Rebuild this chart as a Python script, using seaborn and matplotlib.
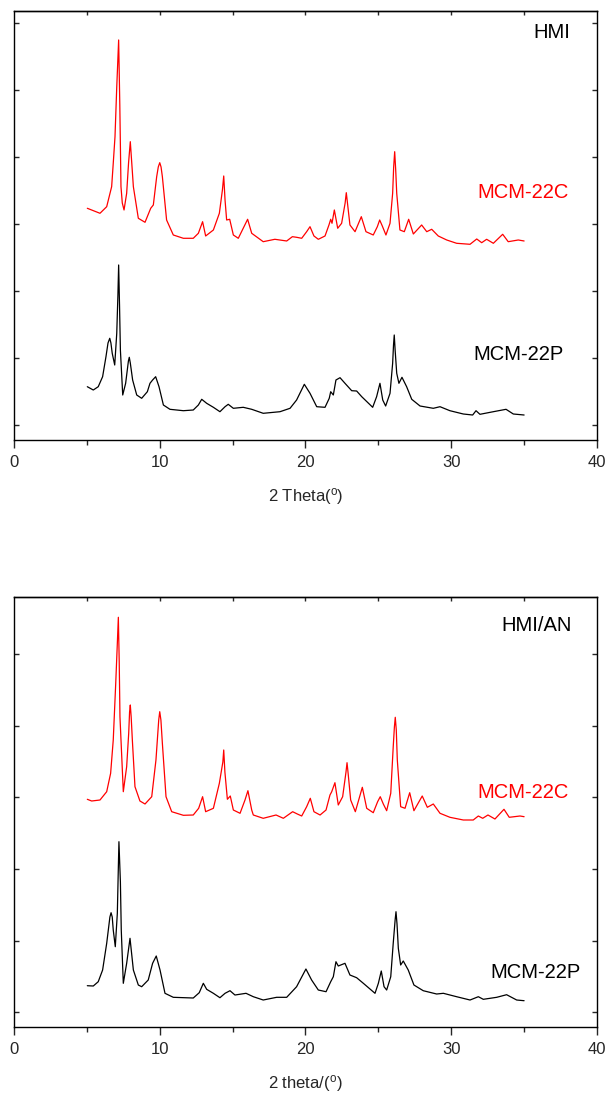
import numpy as np
import pandas as pd
import matplotlib
matplotlib.use("Agg")
import matplotlib.pyplot as plt
import seaborn as sns
from matplotlib.ticker import MultipleLocator, FixedLocator

# ---------------- data (2theta in degrees, intensity in a.u.) -------------
# Panel 1 (HMI) - MCM-22C (red)
theta_hmi_c = [5.03, 5.9, 6.36, 6.70, 6.81, 6.93, 7.05, 7.18, 7.26, 7.34, 7.43, 7.55, 7.73, 7.86, 7.98,
               8.08, 8.19, 8.53, 8.99, 9.38, 9.56, 9.79, 9.9, 10.0, 10.09, 10.18, 10.47, 10.93, 11.62,
               12.3, 12.65, 12.94, 13.15, 13.68, 14.09, 14.3, 14.39, 14.48, 14.59, 14.8, 15.05, 15.39,
               16.03, 16.31, 17.1, 17.9, 18.71, 19.1, 19.39, 19.74, 20.08, 20.31, 20.58, 20.88, 21.34,
               21.61, 21.73, 21.82, 21.98, 22.21, 22.48, 22.72, 22.8, 22.88, 23.05, 23.4, 23.83, 24.15,
               24.65, 24.93, 25.09, 25.27, 25.52, 25.8, 25.98, 26.05, 26.12, 26.19, 26.26, 26.48, 26.78,
               27.08, 27.4, 27.97, 28.32, 28.66, 29.11, 29.69, 30.37, 31.29, 31.75, 32.09, 32.43, 32.89,
               33.53, 33.91, 34.6, 35.0]
int_hmi_c = [216.7, 211.7, 218.3, 238.3, 261.7, 288.3, 338.0, 385.0, 320.0, 238.3, 222.0, 215.0, 231.7,
             262.0, 283.3, 262.0, 238.3, 206.7, 202.7, 216.7, 220.0, 248.3, 258.0, 262.3, 258.0, 248.3,
             205.0, 190.0, 186.7, 186.7, 191.7, 203.3, 189.0, 195.0, 211.7, 235.0, 249.0, 225.0, 205.0,
             205.7, 190.0, 186.7, 205.7, 191.7, 183.3, 185.7, 184.0, 188.3, 187.7, 186.7, 193.3, 198.3,
             189.0, 185.7, 189.0, 200.0, 205.7, 201.7, 215.0, 196.7, 201.7, 222.0, 232.3, 222.0, 200.0,
             193.3, 208.3, 193.3, 190.0, 198.3, 205.0, 199.0, 190.0, 201.7, 231.7, 258.0, 273.3, 255.0,
             231.7, 195.0, 193.3, 205.7, 191.0, 200.0, 193.3, 195.7, 189.0, 185.0, 181.7, 180.7, 186.0,
             182.3, 185.7, 181.7, 190.7, 183.3, 185.0, 184.0]

# Panel 1 (HMI) - MCM-22P (black)
theta_hmi_p = [5.03, 5.44, 5.78, 6.08, 6.31, 6.45, 6.57, 6.65, 6.74, 6.91, 7.05, 7.13, 7.18, 7.24, 7.3,
               7.46, 7.66, 7.85, 7.91, 7.98, 8.14, 8.42, 8.76, 9.15, 9.33, 9.51, 9.72, 9.95, 10.25, 10.7,
               11.62, 12.3, 12.65, 12.88, 13.22, 13.68, 14.13, 14.48, 14.7, 15.05, 15.73, 16.31, 17.1,
               18.25, 18.94, 19.39, 19.92, 20.31, 20.77, 21.34, 21.63, 21.73, 21.91, 22.09, 22.37, 22.71,
               23.17, 23.51, 23.86, 24.61, 24.88, 25.11, 25.3, 25.5, 25.8, 25.98, 26.04, 26.09, 26.15,
               26.26, 26.41, 26.62, 26.94, 27.29, 27.86, 28.77, 29.23, 29.91, 30.83, 31.47, 31.7, 31.97,
               32.89, 33.76, 34.26, 35.0]
int_hmi_p = [38.3, 35.0, 38.3, 48.3, 68.3, 82.0, 86.7, 82.0, 71.7, 60.0, 91.7, 130.0, 160.0, 120.0, 75.0,
             30.0, 41.7, 64.0, 67.7, 62.0, 45.0, 30.0, 26.7, 33.3, 41.7, 45.0, 48.3, 38.3, 20.0, 15.7,
             14.3, 15.0, 20.0, 25.7, 21.7, 17.7, 13.3, 18.3, 20.7, 16.7, 17.7, 15.7, 11.7, 13.3, 16.7,
             25.0, 40.7, 31.7, 18.3, 17.7, 26.7, 33.3, 30.0, 45.0, 47.3, 41.7, 34.3, 34.0, 28.3, 17.7,
             28.3, 41.7, 25.0, 19.0, 31.7, 61.7, 80.0, 90.0, 75.0, 51.7, 41.7, 47.7, 38.3, 25.7, 19.0,
             16.7, 18.3, 14.3, 11.0, 10.0, 14.3, 10.7, 13.3, 15.7, 11.0, 10.0]

# Panel 2 (HMI/AN) - MCM-22C (red)
theta_an_c = [5.03, 5.33, 5.9, 6.36, 6.63, 6.81, 6.98, 7.08, 7.16, 7.22, 7.27, 7.5, 7.73, 7.87, 7.93,
              7.98, 8.04, 8.12, 8.3, 8.64, 8.99, 9.45, 9.74, 9.93, 10.0, 10.08, 10.18, 10.43, 10.82, 11.62,
              12.3, 12.67, 12.94, 13.15, 13.68, 14.09, 14.33, 14.39, 14.47, 14.64, 14.84, 15.05, 15.51,
              15.85, 16.05, 16.31, 16.42, 17.1, 17.98, 18.48, 19.12, 19.44, 19.74, 20.08, 20.33, 20.58,
              21.0, 21.41, 21.68, 21.8, 22.02, 22.25, 22.55, 22.78, 22.85, 22.93, 23.1, 23.42, 23.9, 24.2,
              24.65, 24.95, 25.13, 25.34, 25.57, 25.85, 26.02, 26.1, 26.16, 26.23, 26.3, 26.53, 26.83,
              27.15, 27.44, 28.01, 28.36, 28.77, 29.23, 29.91, 30.83, 31.51, 31.86, 32.16, 32.52, 33.0,
              33.62, 33.98, 34.72, 35.0]
int_an_c = [212.7, 211.0, 212.0, 220.3, 238.7, 272.0, 328.7, 365.0, 394.7, 350.0, 295.3, 220.3, 245.3,
            278.7, 300.0, 307.0, 295.0, 272.0, 225.3, 211.0, 208.0, 215.3, 252.0, 292.0, 300.3, 292.0,
            268.7, 215.3, 200.3, 196.7, 197.0, 203.7, 215.3, 200.3, 203.7, 228.7, 250.0, 262.0, 240.0,
            212.7, 216.0, 202.0, 198.7, 212.0, 221.3, 202.0, 197.0, 193.7, 197.0, 193.7, 200.3, 198.0,
            196.0, 205.3, 213.7, 200.3, 197.0, 202.0, 217.0, 220.3, 229.3, 207.0, 215.3, 240.0, 249.3,
            238.0, 212.0, 200.3, 224.7, 203.7, 199.3, 210.3, 215.3, 208.0, 201.3, 218.7, 265.3, 285.0,
            294.7, 282.0, 252.0, 205.3, 203.7, 219.3, 201.3, 216.0, 204.7, 208.0, 198.7, 194.7, 192.0,
            192.0, 196.0, 193.7, 197.0, 193.0, 202.7, 194.7, 196.0, 195.3]

# Panel 2 (HMI/AN) - MCM-22P (black)
theta_an_p = [5.03, 5.44, 5.78, 6.08, 6.36, 6.58, 6.66, 6.74, 6.81, 6.95, 7.09, 7.16, 7.2, 7.3, 7.36,
              7.5, 7.73, 7.96, 8.19, 8.53, 8.76, 9.21, 9.51, 9.76, 10.02, 10.36, 10.93, 12.3, 12.71, 12.99,
              13.22, 13.68, 14.13, 14.48, 14.82, 15.16, 15.92, 16.42, 17.1, 18.02, 18.71, 19.39, 20.03,
              20.42, 20.88, 21.41, 21.73, 21.91, 22.09, 22.25, 22.71, 23.05, 23.51, 23.97, 24.77, 25.0,
              25.2, 25.39, 25.57, 25.85, 26.02, 26.15, 26.21, 26.28, 26.37, 26.53, 26.71, 27.05, 27.44,
              28.08, 29.0, 29.46, 30.37, 31.29, 31.86, 32.2, 33.12, 33.8, 34.49, 35.0]
int_an_p = [26.3, 26.0, 30.3, 42.0, 68.7, 95.0, 99.3, 95.0, 82.0, 65.3, 98.7, 145.0, 170.3, 130.0, 82.0,
            28.7, 48.7, 73.7, 42.0, 27.0, 25.3, 32.0, 48.7, 56.0, 42.0, 18.7, 14.7, 14.0, 19.3, 28.7,
            22.7, 18.7, 14.3, 18.7, 21.3, 17.0, 18.7, 15.3, 12.0, 14.7, 14.7, 25.3, 43.0, 32.0, 22.0,
            20.3, 30.3, 35.3, 50.3, 46.0, 48.7, 37.0, 34.3, 28.7, 18.7, 28.7, 41.0, 25.3, 22.0, 35.3,
            68.7, 92.0, 100.3, 88.0, 63.7, 47.0, 51.0, 42.0, 27.0, 21.3, 18.0, 18.7, 15.3, 12.0, 15.3,
            12.7, 14.7, 17.3, 12.0, 11.3]

sample_names = ["MCM-22C", "MCM-22P"]
panel_titles = ["HMI", "HMI/AN"]
xlabels = ["2 Theta($\\mathrm{^o}$)", "2 theta/($\\mathrm{^o}$)"]
x_ticks = [0, 10, 20, 30, 40]

# ---------------- style ----------------
sns.set_style("ticks")
plt.rcParams["font.family"] = ["Liberation Sans", "DejaVu Sans"]
plt.rcParams["mathtext.fontset"] = "custom"
plt.rcParams["mathtext.rm"] = "Liberation Sans"
plt.rcParams["mathtext.it"] = "Liberation Sans:italic"
plt.rcParams["axes.linewidth"] = 1.0

fig = plt.figure(figsize=(6.10, 10.97), dpi=100)
ax_top = fig.add_axes([0.02295, 0.5989, 0.9557, 0.3911])
ax_bot = fig.add_axes([0.02295, 0.0638, 0.9557, 0.3920])

panels = [
    dict(ax=ax_top, c=(theta_hmi_c, int_hmi_c), p=(theta_hmi_p, int_hmi_p), title=panel_titles[0],
         xlabel=xlabels[0], ylim=(-15, 414), ystep=67,
         title_xy=(38.2, 392), c_xy=(34.9, 232), p_xy=(34.6, 70)),
    dict(ax=ax_bot, c=(theta_an_c, int_an_c), p=(theta_an_p, int_an_p), title=panel_titles[1],
         xlabel=xlabels[1], ylim=(-15, 415), ystep=71.5,
         title_xy=(38.3, 386), c_xy=(34.9, 219), p_xy=(35.8, 40)),
]

for pn in panels:
    ax = pn["ax"]
    df_c = pd.DataFrame({"theta": pn["c"][0], "I": pn["c"][1]})
    df_p = pd.DataFrame({"theta": pn["p"][0], "I": pn["p"][1]})
    sns.lineplot(data=df_c, x="theta", y="I", ax=ax, color="#ff0000", linewidth=0.9,
                 estimator=None, sort=True)
    sns.lineplot(data=df_p, x="theta", y="I", ax=ax, color="#000000", linewidth=0.9,
                 estimator=None, sort=True)
    ax.set_xlim(0, 40)
    ax.set_ylim(*pn["ylim"])
    ax.xaxis.set_major_locator(FixedLocator(x_ticks))
    ax.xaxis.set_minor_locator(MultipleLocator(5))
    ax.yaxis.set_major_locator(MultipleLocator(pn["ystep"]))
    ax.tick_params(axis="x", which="major", direction="out", length=6, width=1.0,
                   labelsize=12, pad=5, top=False)
    ax.tick_params(axis="x", which="minor", direction="out", length=3.5, width=1.0, top=False)
    ax.tick_params(axis="y", which="major", direction="in", length=3.5, width=1.0,
                   left=True, right=True, labelleft=False)
    sec = ax.secondary_xaxis("top")
    sec.set_xticks([5, 10, 15, 20, 25, 30, 35])
    sec.tick_params(axis="x", direction="in", length=3, width=1.0, labeltop=False)
    for s in ax.spines.values():
        s.set_linewidth(1.0)
        s.set_color("black")
    ax.set_xlabel(pn["xlabel"], fontsize=12, labelpad=11)
    ax.set_ylabel("")
    ax.text(pn["title_xy"][0], pn["title_xy"][1], pn["title"], fontsize=14.5, color="black",
            ha="right", va="center")
    ax.text(pn["c_xy"][0], pn["c_xy"][1], sample_names[0], fontsize=14.5, color="#ff0000",
            ha="center", va="center")
    ax.text(pn["p_xy"][0], pn["p_xy"][1], sample_names[1], fontsize=14.5, color="black",
            ha="center", va="center")

fig.savefig("out.png", dpi=100)
